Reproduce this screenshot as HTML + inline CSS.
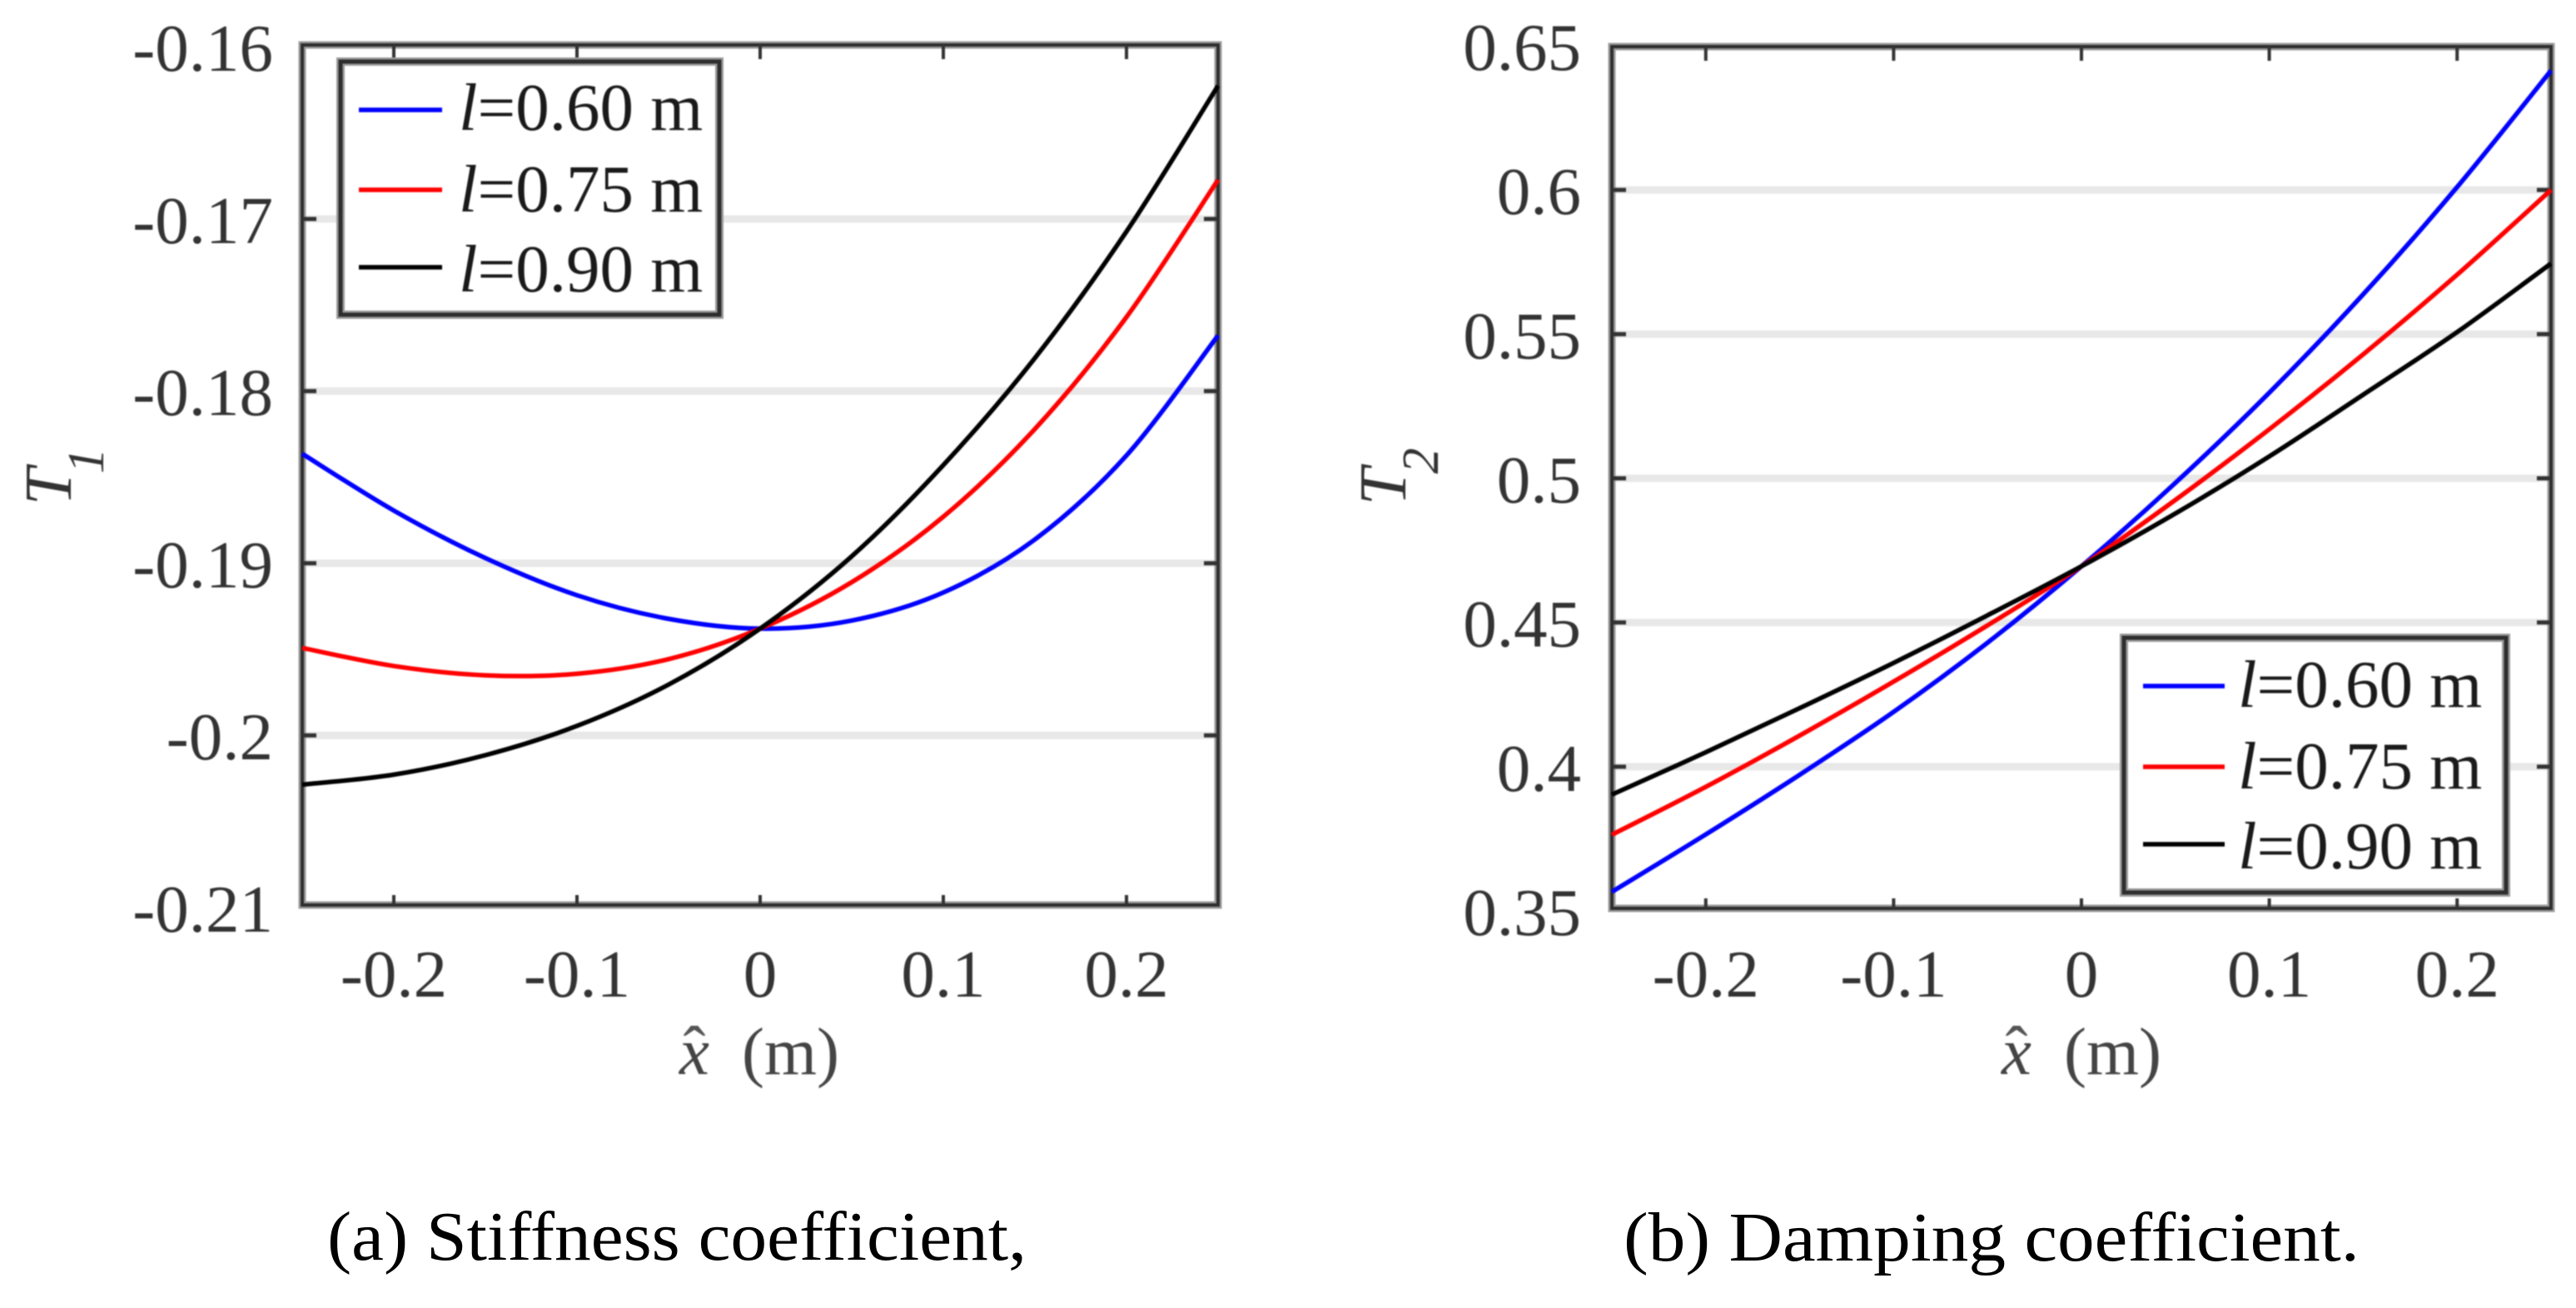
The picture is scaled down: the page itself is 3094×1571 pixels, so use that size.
<!DOCTYPE html>
<html lang="en">
<head>
<meta charset="utf-8">
<title>Stiffness and damping coefficients</title>
<style>
html,body{margin:0;padding:0;background:#fff;width:3094px;height:1571px;overflow:hidden}
svg{display:block}
text{font-family:"Liberation Serif",serif;fill:#333}
.soft{filter:blur(0.8px)}
.lab{font-size:81px}
.leg{font-size:81px;fill:#1a1a1a}
.cap{font-size:84px;fill:#000}
</style>
</head>
<body>
<svg id="figure" xmlns="http://www.w3.org/2000/svg" width="3094" height="1571" viewBox="0 0 3094 1571">
  <g id="panelA" class="soft"></g>
  <g id="panelB" class="soft"></g>
  <text class="cap" x="393" y="1513" textLength="840" lengthAdjust="spacingAndGlyphs">(a) Stiffness coefficient,</text>
  <text class="cap" x="1950" y="1514" textLength="884" lengthAdjust="spacingAndGlyphs">(b) Damping coefficient.</text>
</svg>
<script>
// ---- data ----
const xValues = [-0.25,-0.2,-0.15,-0.1,-0.05,0,0.05,0.1,0.15,0.2,0.25];
const xTicks = [-0.2,-0.1,0,0.1,0.2];
const xTickLabels = ['-0.2','-0.1','0','0.1','0.2'];
const seriesNames = ['l-0.60','l-0.75','l-0.90'];
const seriesColors = ['#0000ff','#ff0000','#000000'];
const legendValues = ['0.60','0.75','0.90'];

const t1Ticks = [-0.16,-0.17,-0.18,-0.19,-0.2,-0.21];
const t1TickLabels = ['-0.16','-0.17','-0.18','-0.19','-0.2','-0.21'];
const t1L60 = [-0.18364,-0.18694,-0.1897,-0.19186,-0.19323,-0.1938,-0.19333,-0.1917,-0.18862,-0.18374,-0.17677];
const t1L75 = [-0.19492,-0.19597,-0.19651,-0.19642,-0.19557,-0.1938,-0.1911,-0.1873,-0.1822,-0.1757,-0.16773];
const t1L90 = [-0.20286,-0.20228,-0.20115,-0.19945,-0.19705,-0.1938,-0.1896,-0.1843,-0.17808,-0.17073,-0.16226];

const t2Ticks = [0.65,0.6,0.55,0.5,0.45,0.4,0.35];
const t2TickLabels = ['0.65','0.6','0.55','0.5','0.45','0.4','0.35'];
const t2L60 = [0.3566,0.3765,0.3972,0.419,0.443,0.4695,0.4984,0.5297,0.5638,0.601,0.6414];
const t2L75 = [0.3764,0.393,0.4108,0.4295,0.449,0.4695,0.4925,0.517,0.543,0.5706,0.6];
const t2L90 = [0.3903,0.405,0.4203,0.436,0.4525,0.4695,0.4878,0.5076,0.529,0.5507,0.5745];

// ---- drawing ----
const NS = 'http://www.w3.org/2000/svg';
function make(tag, attrs, parent){
  const el = document.createElementNS(NS, tag);
  for (const k in attrs) el.setAttribute(k, attrs[k]);
  parent.appendChild(el);
  return el;
}
function linear(d0, d1, r0, r1){
  return v => r0 + (v - d0) / (d1 - d0) * (r1 - r0);
}
function smoothPath(pts){
  let d = 'M' + pts[0][0] + ' ' + pts[0][1];
  for (let i = 0; i < pts.length - 1; i++){
    const p0 = pts[Math.max(i-1,0)], p1 = pts[i], p2 = pts[i+1], p3 = pts[Math.min(i+2,pts.length-1)];
    const c1x = p1[0] + (p2[0]-p0[0])/6, c1y = p1[1] + (p2[1]-p0[1])/6;
    const c2x = p2[0] - (p3[0]-p1[0])/6, c2y = p2[1] - (p3[1]-p1[1])/6;
    d += ' C' + c1x + ' ' + c1y + ' ' + c2x + ' ' + c2y + ' ' + p2[0] + ' ' + p2[1];
  }
  return d;
}

function drawPanel(cfg){
  const g = document.getElementById(cfg.id);
  const X = linear(-0.25, 0.25, cfg.left, cfg.right);
  const Y = linear(cfg.yMin, cfg.yMax, cfg.yBottom, cfg.yTop);

  // grid bands and y tick labels
  cfg.yTicks.forEach((v, i) => {
    const y = Y(v);
    if (v !== cfg.yMin && v !== cfg.yMax){
      const band = make('line', {x1:cfg.left, x2:cfg.right, y1:y, y2:y, stroke:'#e8e8e8', 'stroke-width':9}, g);
      
      
    }
    const lab = make('text', {x:cfg.labelRight, y:y + 29, 'text-anchor':'end', class:'lab'}, g);
    lab.textContent = cfg.yLabels[i];
    
    
  });

  // frame with soft halo
  const halo = make('rect', {x:cfg.left, y:cfg.top, width:cfg.right-cfg.left, height:cfg.bottom-cfg.top, fill:'none', stroke:'#9a9a9a', 'stroke-width':9}, g);
  
  
  const frame = make('rect', {x:cfg.left, y:cfg.top, width:cfg.right-cfg.left, height:cfg.bottom-cfg.top, fill:'none', stroke:'#2e2e2e', 'stroke-width':4}, g);
  
  

  // y tick marks
  cfg.yTicks.forEach(v => {
    if (v === cfg.yMin || v === cfg.yMax) return;
    const y = Y(v);
    const tl = make('line', {x1:cfg.left, x2:cfg.left+17, y1:y, y2:y, stroke:'#333', 'stroke-width':5}, g);
    
    
    const tr = make('line', {x1:cfg.right, x2:cfg.right-17, y1:y, y2:y, stroke:'#333', 'stroke-width':5}, g);
    
    
  });

  // x ticks and labels
  xTicks.forEach((v, i) => {
    const x = X(v);
    const tt = make('line', {x1:x, x2:x, y1:cfg.top, y2:cfg.top+17, stroke:'#333', 'stroke-width':4}, g);
    
    
    const tb = make('line', {x1:x, x2:x, y1:cfg.bottom, y2:cfg.bottom-12, stroke:'#333', 'stroke-width':4}, g);
    
    
    const lab = make('text', {x:x, y:1197, 'text-anchor':'middle', class:'lab'}, g);
    lab.textContent = xTickLabels[i];
    
    
  });

  // series
  cfg.series.forEach((vals, s) => {
    const pts = vals.map((v, i) => [X(xValues[i]), Y(v)]);
    const p = make('path', {d:smoothPath(pts), fill:'none', stroke:seriesColors[s], 'stroke-width':5.5}, g);
    
    
  });

  // legend box
  const L = cfg.legend;
  const lh = make('rect', {x:L.x, y:L.y, width:L.w, height:L.h, fill:'#fff', stroke:'#9a9a9a', 'stroke-width':10}, g);
  
  
  const lb = make('rect', {x:L.x, y:L.y, width:L.w, height:L.h, fill:'none', stroke:'#2e2e2e', 'stroke-width':5}, g);
  
  
  legendValues.forEach((val, i) => {
    const sw = make('line', {x1:L.lineX1, x2:L.lineX2, y1:L.lineY[i], y2:L.lineY[i], stroke:seriesColors[i], 'stroke-width':5.5}, g);
    
    
    const t = make('text', {x:L.textX, y:L.textY[i], class:'leg'}, g);
    
    
    const it = make('tspan', {'font-style':'italic'}, t);
    it.textContent = 'l';
    const rest = make('tspan', {}, t);
    rest.textContent = '=' + val + ' m';
  });

  // x axis title
  const hat = make('text', {x:cfg.xTitle + 22, y:1288, 'text-anchor':'middle', class:'lab', style:'fill:#555'}, g);
  hat.textContent = 'ˆ';
  
  
  const xv = make('text', {x:cfg.xTitle + 22, y:1290, 'text-anchor':'middle', class:'lab', 'font-style':'italic', style:'fill:#444'}, g);
  xv.textContent = 'x';
  
  
  const xu = make('text', {x:cfg.xTitle + 79, y:1290, class:'lab', style:'fill:#444'}, g);
  xu.textContent = '(m)';
  
  

  // y axis title
  const yt = make('text', {transform:'translate(' + cfg.yTitleX + ' 607) rotate(-90)', class:'lab', 'font-style':'italic'}, g);
  yt.textContent = 'T';
  
  
  const ys = make('text', {transform:'translate(' + (cfg.yTitleX + 39) + ' 569) rotate(-90)', 'font-size':62, 'font-style':'italic'}, g);
  ys.textContent = cfg.ySub;
  
  
}

drawPanel({
  id:'panelA', left:363, right:1463, top:54, bottom:1087,
  yMin:-0.21, yMax:-0.16, yBottom:1090, yTop:56.2,
  yTicks:t1Ticks, yLabels:t1TickLabels, labelRight:328,
  series:[t1L60,t1L75,t1L90],
  legend:{x:409,y:74,w:455,h:304,lineX1:431,lineX2:531,lineY:[132,228,321],textX:551,textY:[156,254,350]},
  xTitle:812, yTitleX:85, ySub:'1'
});
drawPanel({
  id:'panelB', left:1936, right:3064, top:56, bottom:1091,
  yMin:0.35, yMax:0.65, yBottom:1094, yTop:55,
  yTicks:t2Ticks, yLabels:t2TickLabels, labelRight:1899,
  series:[t2L60,t2L75,t2L90],
  legend:{x:2551,y:766,w:459,h:306,lineX1:2574,lineX2:2672,lineY:[824,921,1014],textX:2688,textY:[849,947,1043]},
  xTitle:2400, yTitleX:1688, ySub:'2'
});
</script>
</body>
</html>
